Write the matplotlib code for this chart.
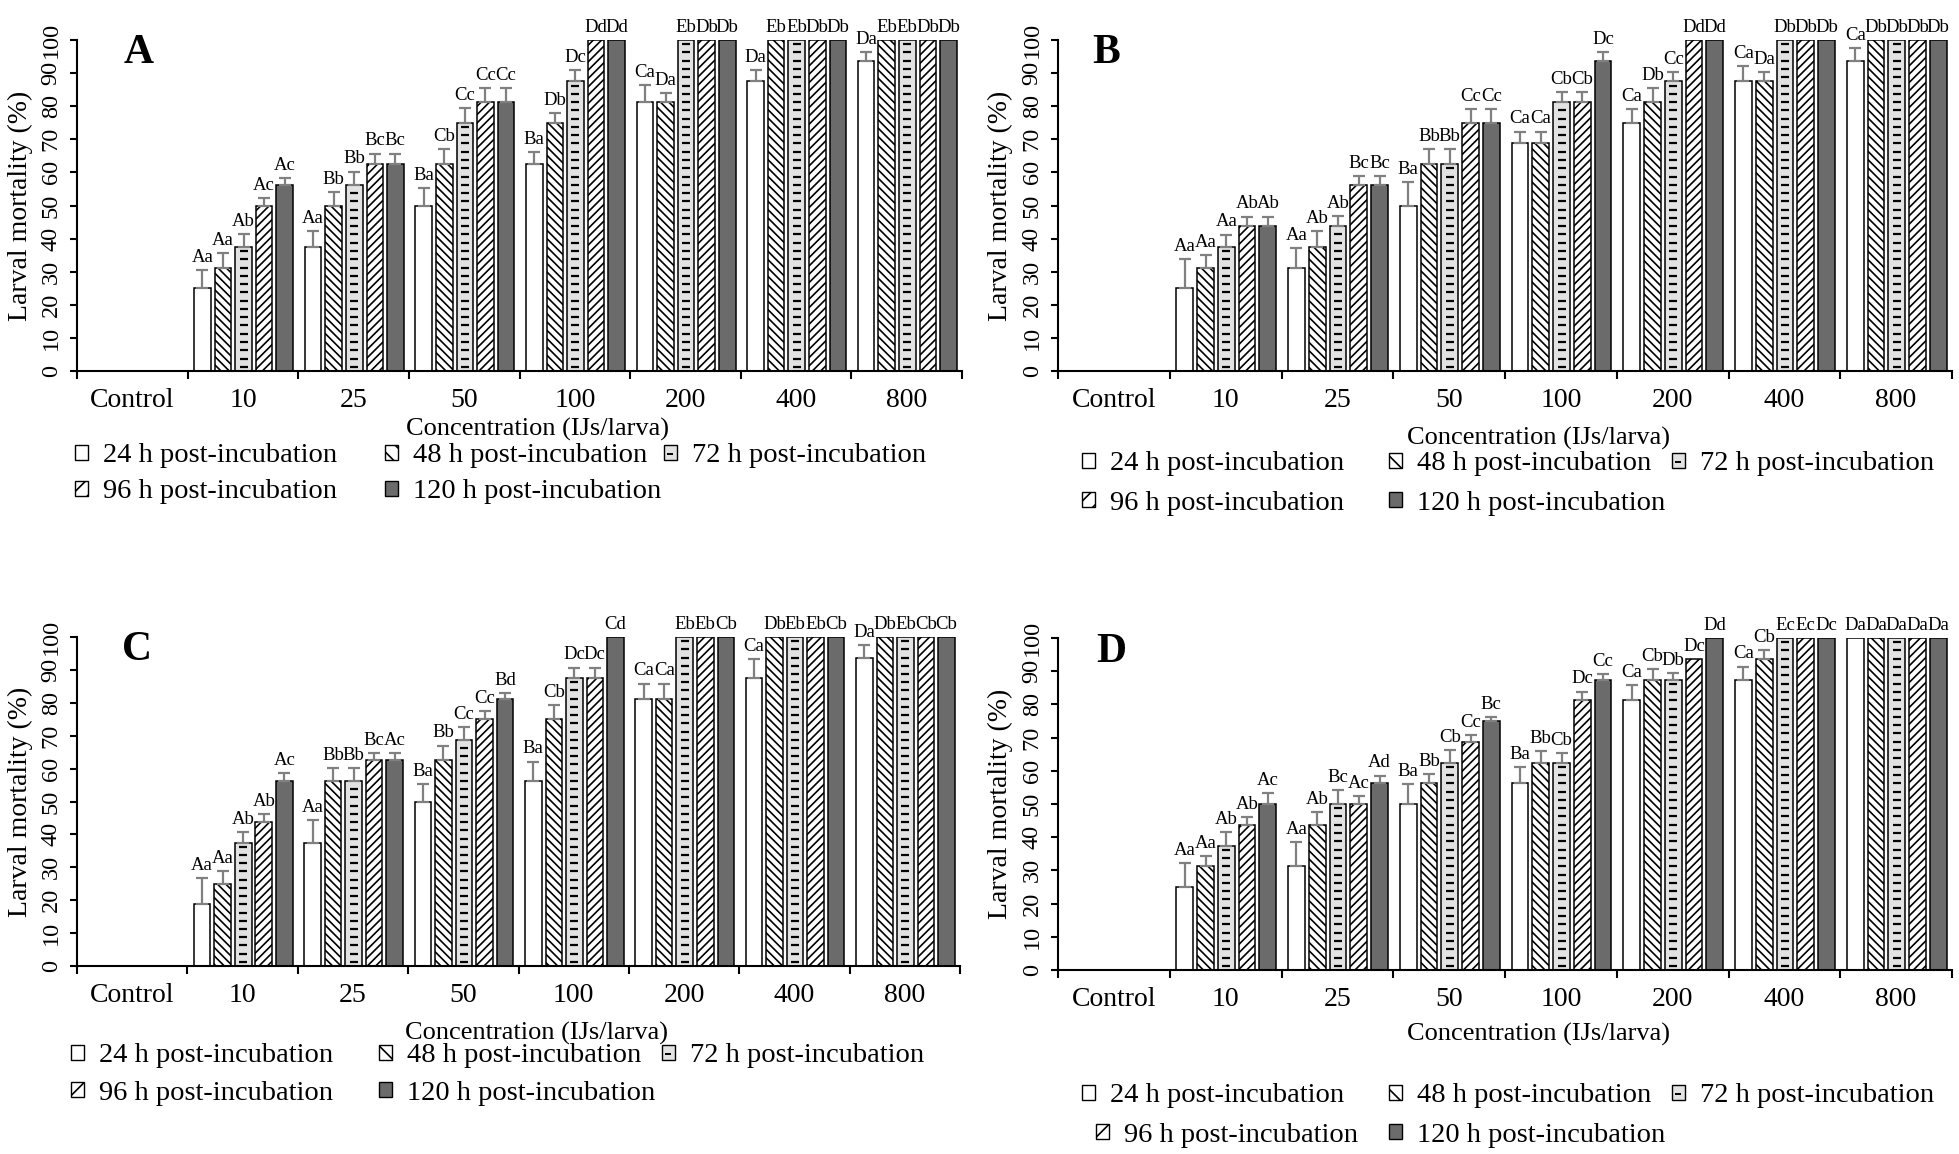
import numpy as np
import matplotlib
matplotlib.use('Agg')
import matplotlib.pyplot as plt
from matplotlib.patches import Patch
from matplotlib.lines import Line2D

W, H = 1959, 1154
plt.rcParams['font.family'] = ['Liberation Serif', 'DejaVu Serif']
plt.rcParams['hatch.linewidth'] = 1.2

concentrations = ['Control', '10', '25', '50', '100', '200', '400', '800']
series_names = ['24 h post-incubation', '48 h post-incubation', '72 h post-incubation',
                '96 h post-incubation', '120 h post-incubation']

# rows = 24 h, 48 h, 72 h, 96 h, 120 h ; columns = concentrations
A_mean = [[0, 25, 37.5, 50, 62.5, 81.25, 87.5, 93.75],
          [0, 31.25, 50, 62.5, 75, 81.25, 100, 100],
          [0, 37.5, 56.25, 75, 87.5, 100, 100, 100],
          [0, 50, 62.5, 81.25, 100, 100, 100, 100],
          [0, 56.25, 62.5, 81.25, 100, 100, 100, 100]]
A_err = [[0, 5.6, 4.8, 5.3, 3.7, 5.2, 3.4, 2.7],
         [0, 4.5, 4, 4.5, 3, 2.8, 0, 0],
         [0, 3.8, 4, 4.4, 3.4, 0, 0, 0],
         [0, 2.3, 3.2, 4.3, 0, 0, 0, 0],
         [0, 2, 3.2, 4.3, 0, 0, 0, 0]]
A_letters = [['', 'Aa', 'Aa', 'Ba', 'Ba', 'Ca', 'Da', 'Da'],
             ['', 'Aa', 'Bb', 'Cb', 'Db', 'Da', 'Eb', 'Eb'],
             ['', 'Ab', 'Bb', 'Cc', 'Dc', 'Eb', 'Eb', 'Eb'],
             ['', 'Ac', 'Bc', 'Cc', 'Dd', 'Db', 'Db', 'Db'],
             ['', 'Ac', 'Bc', 'Cc', 'Dd', 'Db', 'Db', 'Db']]

B_mean = [[0, 25, 31.25, 50, 68.75, 75, 87.5, 93.75],
          [0, 31.25, 37.5, 62.5, 68.75, 81.25, 87.5, 100],
          [0, 37.5, 43.75, 62.5, 81.25, 87.5, 100, 100],
          [0, 43.75, 56.25, 75, 81.25, 100, 100, 100],
          [0, 43.75, 56.25, 75, 93.75, 100, 100, 100]]
B_err = [[0, 8.8, 6, 7.2, 3.6, 4.2, 4.6, 3.9],
         [0, 3.75, 4.8, 4.5, 3.6, 4.2, 2.7, 0],
         [0, 3.7, 3, 4.5, 3, 2.7, 0, 0],
         [0, 2.9, 2.6, 4.2, 3, 0, 0, 0],
         [0, 2.9, 2.6, 4.2, 2.7, 0, 0, 0]]
B_letters = [['', 'Aa', 'Aa', 'Ba', 'Ca', 'Ca', 'Ca', 'Ca'],
             ['', 'Aa', 'Ab', 'Bb', 'Ca', 'Db', 'Da', 'Db'],
             ['', 'Aa', 'Ab', 'Bb', 'Cb', 'Cc', 'Db', 'Db'],
             ['', 'Ab', 'Bc', 'Cc', 'Cb', 'Dd', 'Db', 'Db'],
             ['', 'Ab', 'Bc', 'Cc', 'Dc', 'Dd', 'Db', 'Db']]

C_mean = [[0, 18.75, 37.5, 50, 56.25, 81.25, 87.5, 93.75],
          [0, 25, 56.25, 62.5, 75, 81.25, 100, 100],
          [0, 37.5, 56.25, 68.75, 87.5, 100, 100, 100],
          [0, 43.75, 62.5, 75, 87.5, 100, 100, 100],
          [0, 56.25, 62.5, 81.25, 100, 100, 100, 100]]
C_err = [[0, 7.85, 6.9, 5.3, 5.9, 4.6, 5.7, 3.7],
         [0, 3.9, 4, 4.5, 4.2, 4.6, 0, 0],
         [0, 3.1, 4, 3.8, 3.2, 0, 0, 0],
         [0, 2.4, 2.2, 2.4, 3.2, 0, 0, 0],
         [0, 2.3, 2.2, 1.8, 0, 0, 0, 0]]
C_letters = [['', 'Aa', 'Aa', 'Ba', 'Ba', 'Ca', 'Ca', 'Da'],
             ['', 'Aa', 'Bb', 'Bb', 'Cb', 'Ca', 'Db', 'Db'],
             ['', 'Ab', 'Bb', 'Cc', 'Dc', 'Eb', 'Eb', 'Eb'],
             ['', 'Ab', 'Bc', 'Cc', 'Dc', 'Eb', 'Eb', 'Cb'],
             ['', 'Ac', 'Ac', 'Bd', 'Cd', 'Cb', 'Cb', 'Cb']]

D_mean = [[0, 25, 31.25, 50, 56.25, 81.25, 87.5, 100],
          [0, 31.25, 43.75, 56.25, 62.5, 87.5, 93.75, 100],
          [0, 37.5, 50, 62.5, 62.5, 87.5, 100, 100],
          [0, 43.75, 50, 68.75, 81.25, 93.75, 100, 100],
          [0, 50, 56.25, 75, 87.5, 100, 100, 100]]
D_err = [[0, 7.3, 7.2, 6, 4.8, 4.5, 3.9, 0],
         [0, 3, 3.9, 2.8, 3.4, 3.2, 2.7, 0],
         [0, 4, 4.3, 3.7, 2.9, 1.9, 0, 0],
         [0, 2.2, 2.5, 2.1, 2.6, 0, 0, 0],
         [0, 3.2, 2.3, 1.3, 1.7, 0, 0, 0]]
D_letters = [['', 'Aa', 'Aa', 'Ba', 'Ba', 'Ca', 'Ca', 'Da'],
             ['', 'Aa', 'Ab', 'Bb', 'Bb', 'Cb', 'Cb', 'Da'],
             ['', 'Ab', 'Bc', 'Cb', 'Cb', 'Db', 'Ec', 'Da'],
             ['', 'Ab', 'Ac', 'Cc', 'Dc', 'Dc', 'Ec', 'Da'],
             ['', 'Ac', 'Ad', 'Bc', 'Cc', 'Dd', 'Dc', 'Da']]

faces = ['white', 'white', '#e2e2e2', 'white', '#6b6b6b']
hatches = [None, '\\\\\\\\', None, '////', None]
legend_hatches = [None, '\\\\', None, '//', None]

# pixel boxes (left, top, right, bottom), letter pos, xlabel pos, legend slots
panels = [
    dict(name='A', data=(A_mean, A_err, A_letters), box=(77, 40, 962, 371),
         letter=(0.07, 0.96), xlab=(0.52, -0.178),
         slots=[(75, 456), (385, 456), (664, 456), (75, 492), (385, 492)]),
    dict(name='B', data=(B_mean, B_err, B_letters), box=(1058, 40, 1952, 371),
         letter=(0.054, 0.96), xlab=(0.538, -0.205),
         slots=[(1082, 464), (1389, 464), (1672, 464), (1082, 503), (1389, 503)]),
    dict(name='C', data=(C_mean, C_err, C_letters), box=(77, 637, 960, 966),
         letter=(0.068, 0.96), xlab=(0.52, -0.204),
         slots=[(71, 1056), (379, 1056), (662, 1056), (71, 1093), (379, 1093)]),
    dict(name='D', data=(D_mean, D_err, D_letters), box=(1058, 638, 1952, 970),
         letter=(0.06, 0.958), xlab=(0.538, -0.193),
         slots=[(1082, 1096), (1389, 1096), (1672, 1096), (1096, 1135), (1389, 1135)]),
]

fig = plt.figure(figsize=(W / 100, H / 100), dpi=100)

x = np.arange(len(concentrations))
width = 0.15
offsets = (np.arange(5) - 2) * 0.186 + 0.006

for p in panels:
    l, t, r, b = p['box']
    ax = fig.add_axes([l / W, 1 - b / H, (r - l) / W, (b - t) / H])
    means, errs, letters = p['data']
    for k in range(5):
        xs = x + offsets[k]
        m = np.array(means[k], dtype=float)
        e = np.array(errs[k], dtype=float)
        ax.bar(xs, m, width, color=faces[k], edgecolor='black', linewidth=1.1,
               hatch=hatches[k], zorder=2)
        if k == 2:
            # short dashes stacked inside the 72 h bars
            for xi, mi in zip(xs, m):
                ys = np.arange(1.25, mi, 2.5)
                ax.plot(np.full_like(ys, xi), ys, ls='none', marker='_', ms=5.2,
                        mew=1.6, color='black', zorder=2.5)
        sel = e > 0
        ax.errorbar(xs[sel], m[sel], yerr=[np.zeros(sel.sum()), e[sel]], fmt='none',
                    ecolor='#808080', elinewidth=1.6, capsize=4.3, capthick=1.6, zorder=3)
        for xi, mi, ei, lab in zip(xs, m, e, letters[k]):
            if lab:
                ax.annotate(lab, (xi, mi + ei), xytext=(0, 3), textcoords='offset points',
                            ha='center', va='bottom', fontsize=13.5, annotation_clip=False)

    ax.set_xlim(-0.5, 7.5)
    ax.set_ylim(0, 100)
    for s in ['top', 'right']:
        ax.spines[s].set_visible(False)
    for s in ['left', 'bottom']:
        ax.spines[s].set_linewidth(1.5)

    ax.set_xticks(np.arange(-0.5, 8, 1))
    ax.set_xticklabels([])
    ax.tick_params(axis='x', which='major', length=6, width=1.5, direction='out')
    ax.set_xticks(x, minor=True)
    ax.set_xticklabels(concentrations, minor=True)
    ax.tick_params(axis='x', which='minor', length=0, pad=12, labelsize=20)

    ax.set_yticks(np.arange(0, 101, 10))
    ax.tick_params(axis='y', length=5, width=1.5, direction='out', labelsize=17.5, pad=6)
    for lab in ax.get_yticklabels():
        lab.set_rotation(90)
        lab.set_va('center')

    ax.set_ylabel('Larval mortality (%)', fontsize=20)
    ax.yaxis.set_label_coords(-0.064, 0.5)
    ax.yaxis.label.set_va('center')

    ax.set_xlabel('Concentration (IJs/larva)', fontsize=19)
    ax.xaxis.set_label_coords(*p['xlab'])
    ax.xaxis.label.set_va('center')

    ax.text(p['letter'][0], p['letter'][1], p['name'], transform=ax.transAxes,
            fontsize=30, fontweight='bold', ha='center', va='center')

    # legend: one entry per slot, laid out like the original grid
    for k, (sx, sy) in enumerate(p['slots']):
        patch = Patch(facecolor=faces[k], edgecolor='black', linewidth=1.0,
                      hatch=legend_hatches[k])
        if k == 2:
            handle = (patch, Line2D([], [], ls='none', marker='_', ms=5, mew=1.4, color='black'))
        else:
            handle = patch
        fig.legend([handle], [series_names[k]], loc='center left',
                   bbox_to_anchor=(sx / W, 1 - sy / H),
                   frameon=False, fontsize=20.5, handlelength=0.45, handleheight=0.45,
                   handletextpad=0.55, borderpad=0, borderaxespad=0)

fig.savefig('out.png', dpi=100)
